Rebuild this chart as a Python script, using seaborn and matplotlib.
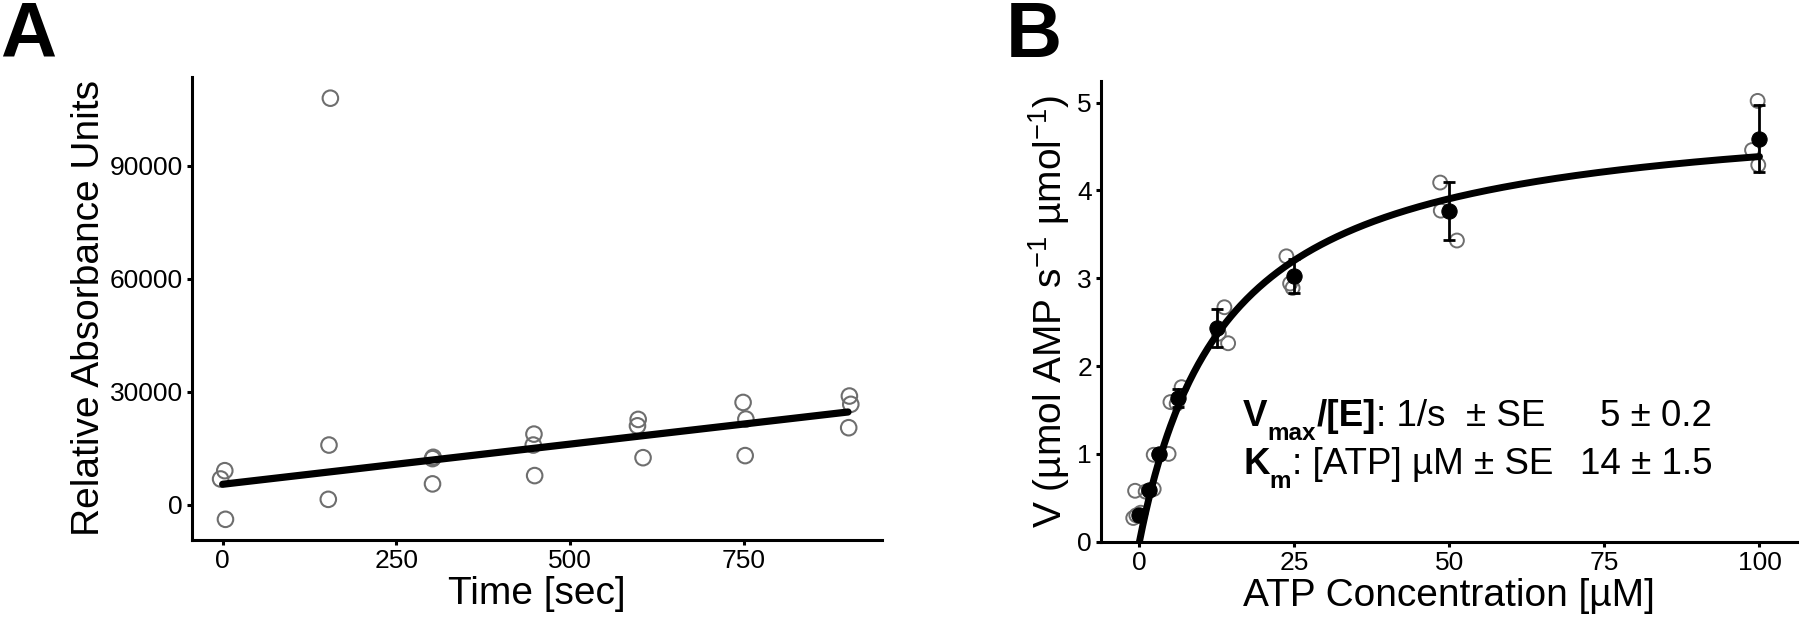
import numpy as np
import pandas as pd
import matplotlib
matplotlib.use("Agg")
import matplotlib.pyplot as plt
import seaborn as sns

# ---------------- Panel A data ----------------
time_sec = [3, -3, 4, 155, 153, 152, 302, 303, 302, 448, 447, 449,
            598, 597, 605, 749, 753, 752, 902, 904, 901]
rel_abs = [9100, 6900, -3800, 107900, 15900, 1500, 12300, 12650, 5600,
           18800, 15900, 7800, 22700, 21000, 12550, 27200, 22800, 13100,
           28900, 26700, 20500]
fit_time = [0, 900]
fit_intercept = 5500
fit_slope = 21.3
a_xticks = [0, 250, 500, 750]
a_yticks = [0, 30000, 60000, 90000]

# ---------------- Panel B data ----------------
atp_nominal = [0, 0, 0, 1.5625, 1.5625, 1.5625, 3.125, 3.125, 3.125,
               6.25, 6.25, 6.25, 12.5, 12.5, 12.5, 25, 25, 25,
               50, 50, 50, 100, 100, 100]
atp_plotted = [-1.0, -0.5, 0.2, -0.7, 1.0, 2.3, 2.3, 3.2, 4.7,
               5.0, 6.0, 6.8, 13.7, 12.8, 14.3, 23.7, 24.3, 24.7,
               48.5, 48.6, 51.2, 99.7, 98.8, 99.8]
velocity = [0.27, 0.30, 0.33, 0.58, 0.57, 0.60, 0.99, 0.99, 1.00,
            1.59, 1.57, 1.76, 2.67, 2.37, 2.26, 3.25, 2.94, 2.89,
            4.09, 3.77, 3.43, 5.02, 4.46, 4.29]
vmax = 5.0
km = 14.0
b_xticks = [0, 25, 50, 75, 100]
b_yticks = [0, 1, 2, 3, 4, 5]
# annotation: (text, bold, is_subscript) runs, plus right-hand value
ann_line1 = [("V", True, False), ("max", True, True), ("/[E]", True, False),
             (": 1/s  ± SE", False, False)]
ann_line2 = [("K", True, False), ("m", True, True), (": [ATP] µM ± SE", False, False)]
ann_values = ["5 ± 0.2", "14 ± 1.5"]

# ---------------- style ----------------
sns.set_theme(style="ticks")
plt.rcParams['font.family'] = ['Liberation Sans', 'DejaVu Sans']
plt.rcParams.update({
    'mathtext.fontset': 'custom',
    'mathtext.rm': 'Liberation Sans',
    'mathtext.bf': 'Liberation Sans:bold',
    'mathtext.it': 'Liberation Sans:italic',
    'mathtext.sf': 'Liberation Sans',
    'axes.linewidth': 2.2,
    'xtick.major.width': 2.2,
    'ytick.major.width': 2.2,
    'xtick.major.size': 3.5,
    'ytick.major.size': 3.5,
    'xtick.color': 'black',
    'ytick.color': 'black',
    'xtick.labelcolor': 'black',
    'ytick.labelcolor': 'black',
    'axes.edgecolor': 'black',
    'axes.labelcolor': 'black',
    'text.color': 'black',
})

W, H = 1800, 621
fig = plt.figure(figsize=(W / 100, H / 100), dpi=100)
axA = fig.add_axes([191.7 / W, 1 - 540 / H, (881.7 - 191.7) / W, (540 - 76.7) / H])
axB = fig.add_axes([1101 / W, 1 - 541.7 / H, (1796.7 - 1101) / W, (541.7 - 80.7) / H])

# ---------------- Panel A ----------------
dfA = pd.DataFrame({"time": time_sec, "abs": rel_abs})
sns.scatterplot(data=dfA, x="time", y="abs", ax=axA, s=125,
                facecolor="none", edgecolor="#6e6e6e", linewidth=1.5, zorder=3)
fit_x = np.array(fit_time, dtype=float)
dfFit = pd.DataFrame({"time": fit_x, "abs": fit_intercept + fit_slope * fit_x})
sns.lineplot(data=dfFit, x="time", y="abs", ax=axA, color="black", lw=5.2, zorder=4)
axA.set_xlim(-44.6, 948.5)
axA.set_ylim(-9284, 113600)
axA.set_xticks(a_xticks)
axA.set_yticks(a_yticks)
axA.set_xlabel("Time [sec]", fontsize=28, labelpad=2)
axA.set_ylabel("Relative Absorbance Units", fontsize=28, labelpad=2)
axA.tick_params(labelsize=19, pad=3)

# ---------------- Panel B ----------------
dfB = pd.DataFrame({"atp": atp_nominal, "atp_plot": atp_plotted, "V": velocity})
sns.scatterplot(data=dfB, x="atp_plot", y="V", ax=axB, s=100,
                facecolor="none", edgecolor="#6e6e6e", linewidth=1.4, zorder=3)
curve_x = np.linspace(0, 100, 400)
dfCurve = pd.DataFrame({"atp": curve_x, "V": vmax * curve_x / (km + curve_x)})
sns.lineplot(data=dfCurve, x="atp", y="V", ax=axB, color="black", lw=5, zorder=4)
sns.lineplot(data=dfB, x="atp", y="V", ax=axB, errorbar="sd", err_style="bars",
             marker="o", markersize=11, color="black", linestyle="",
             markeredgecolor="black", zorder=5,
             err_kws={"capsize": 4.5, "elinewidth": 2, "capthick": 2, "zorder": 5})
axB.set_xlim(-6.2, 106)
axB.set_ylim(0, 5.25)
axB.set_xticks(b_xticks)
axB.set_yticks(b_yticks)
axB.set_xlabel("ATP Concentration [µM]", fontsize=28, labelpad=2)
axB.set_ylabel("V (µmol AMP s$^{-1}$ µmol$^{-1}$)", fontsize=28, labelpad=4)
axB.tick_params(labelsize=19, pad=3)

for ax in (axA, axB):
    sns.despine(ax=ax)

# ---------------- annotation (rich text) ----------------
fig.canvas.draw()
renderer = fig.canvas.get_renderer()
ANN_SIZE = 26.5
SUB_SCALE = 0.66
SUB_DROP = 14  # px below baseline


def rich_text(x_px, base_px, runs):
    x = x_px
    for txt, bold, sub in runs:
        size = ANN_SIZE * (SUB_SCALE if sub else 1.0)
        y = base_px + (SUB_DROP if sub else 0)
        t = fig.text(x / W, 1 - y / H, txt, fontsize=size,
                     fontweight="bold" if bold else "normal",
                     ha="left", va="baseline")
        x = t.get_window_extent(renderer).x1 + (1 if sub else 0)


rich_text(1243, 426, ann_line1)
rich_text(1243, 474, ann_line2)
fig.text(1712 / W, 1 - 426 / H, ann_values[0], fontsize=ANN_SIZE, ha="right", va="baseline")
fig.text(1712 / W, 1 - 474 / H, ann_values[1], fontsize=ANN_SIZE, ha="right", va="baseline")

fig.text(0.0, 1 - 57 / H, "A", fontsize=56, fontweight="bold", ha="left", va="baseline")
fig.text(1006 / W, 1 - 57 / H, "B", fontsize=56, fontweight="bold", ha="left", va="baseline")

fig.savefig("out.png", dpi=100)
